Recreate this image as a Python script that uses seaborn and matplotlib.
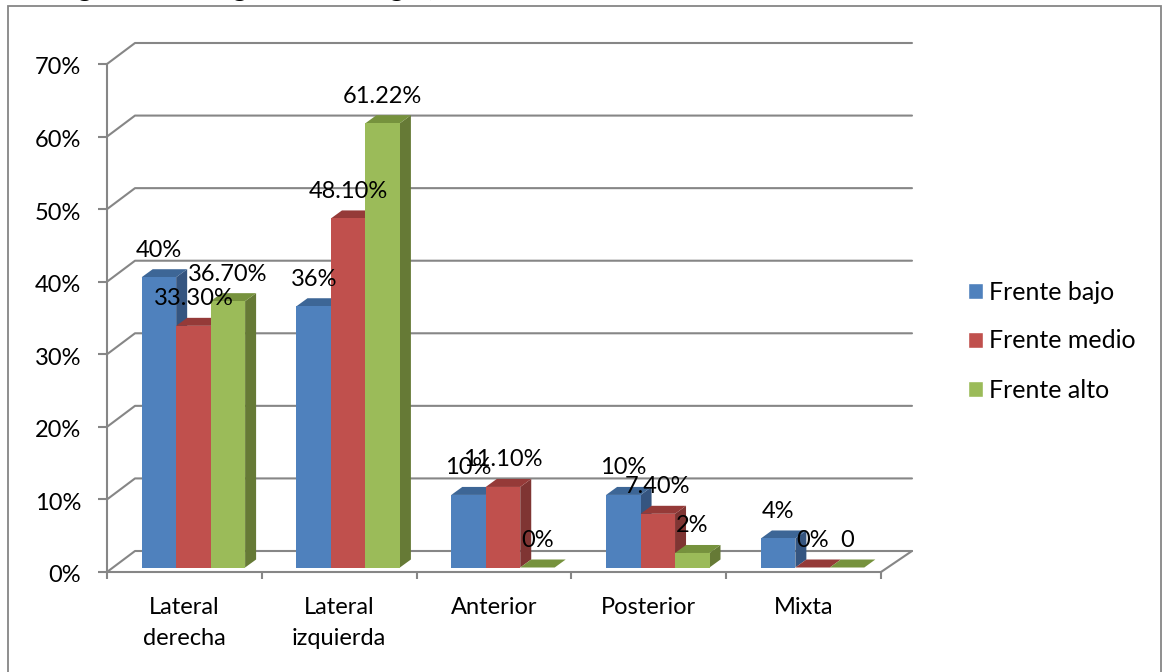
import matplotlib
matplotlib.use('Agg')
import matplotlib.pyplot as plt
from matplotlib.patches import Polygon, Rectangle
from matplotlib.lines import Line2D
from matplotlib.transforms import ScaledTranslation
import pandas as pd
import seaborn as sns

# Data
categories = ['Lateral\nderecha', 'Lateral\nizquierda', 'Anterior', 'Posterior', 'Mixta']
frente_bajo = [40, 36, 10, 10, 4]
frente_medio = [33.3, 48.1, 11.1, 7.4, 0]
frente_alto = [36.7, 61.22, 0, 2, 0]
labels_bajo = ['40%', '36%', '10%', '10%', '4%']
labels_medio = ['33.30%', '48.10%', '11.10%', '7.40%', '0%']
labels_alto = ['36.70%', '61.22%', '0%', '2%', '0']
series_names = ['Frente bajo', 'Frente medio', 'Frente alto']
y_ticks = [0, 10, 20, 30, 40, 50, 60, 70]
# only the bottoms of these glyphs of the line above the chart are on the canvas
cut_glyphs = ['g', 'g', 'g', ',']
cut_glyph_x = [85, 240, 397, 431]

front = ['#4F81BD', '#C0504D', '#9BBB59']
top = ['#3D6696', '#953A38', '#76923D']
side = ['#355580', '#7F3533', '#667A36']
grey = '#868686'

W, H = 1163, 672
sns.set_theme(style='white')
plt.rcParams['font.family'] = ['Lato', 'DejaVu Sans']

df = pd.DataFrame({'cat': categories * 3,
                   'val': frente_bajo + frente_medio + frente_alto,
                   'serie': sum([[s] * 5 for s in series_names], [])})

fig = plt.figure(figsize=(W / 100, H / 100), dpi=100)

# outer chart border, open at the bottom of the canvas
fig.add_artist(Rectangle((8 / W, -0.02), 1153 / W, 1.02 - 5.5 / H, transform=fig.transFigure,
                         fill=False, edgecolor=grey, linewidth=1.3))

# cut off line above the border
for g, gx in zip(cut_glyphs, cut_glyph_x):
    fig.text(gx / W, 1 + 4 / H, g, fontsize=22, ha='center', va='baseline', color='black')

# frame axes = front plane of the 3D box
x0, x1, y0, y1 = 107, 881, 572, 64
ax = fig.add_axes([x0 / W, 1 - y0 / H, (x1 - x0) / W, (y0 - y1) / H])
ax.set_xlim(-0.5, 4.5)
ax.set_ylim(0, 70)
ax.patch.set_alpha(0)
sns.despine(ax=ax, top=True, right=True)
for s in ['left', 'bottom']:
    ax.spines[s].set_color(grey)
    ax.spines[s].set_linewidth(1.5)

ax.set_yticks(y_ticks)
ax.set_yticklabels([f'{v}%' for v in y_ticks], fontsize=17, color='black')
ax.set_xticks([i - 0.5 for i in range(6)])
ax.set_xticklabels([])
ax.set_xticks(range(5), minor=True)
ax.set_xticklabels(categories, minor=True, fontsize=17, color='black', linespacing=1.6)
ax.tick_params(axis='y', which='major', length=6.5, width=1.5, color=grey, left=True, pad=12)
ax.tick_params(axis='x', which='major', length=5, width=1.5, color=grey, bottom=True)
ax.tick_params(axis='x', which='minor', length=0, pad=18)
ax.set_xlabel('')
ax.set_ylabel('')
for lab in ax.get_yticklabels():
    lab.set_transform(lab.get_transform() + ScaledTranslation(0, -2 / 100, fig.dpi_scale_trans))

# walls and floor, drawn in pixels from the tick values
depth_x, depth_y = 28, 21
to_px = lambda v: y0 - (y0 - y1) * v / 70
for v in y_ticks:
    py = to_px(v)
    fig.add_artist(Line2D([x0 / W, (x0 + depth_x) / W, 912 / W],
                          [1 - py / H, 1 - (py - depth_y) / H, 1 - (py - depth_y) / H],
                          color=grey, linewidth=1.5, zorder=0))
fig.add_artist(Line2D([912 / W, x1 / W], [1 - (y0 - depth_y) / H, 1 - y0 / H],
                      color=grey, linewidth=1.5, zorder=0))

# bars axes, shifted into the floor
ax_b = fig.add_axes([(x0 + 9) / W, 1 - (y0 - 4.5) / H, (x1 - x0) / W, (y0 - y1) / H])
ax_b.patch.set_alpha(0)
sns.barplot(data=df, x='cat', y='val', hue='serie', hue_order=series_names, order=categories,
            palette=front, width=0.668, gap=0, saturation=1, errorbar=None, ax=ax_b)
ax_b.set_xlim(-0.5, 4.5)
ax_b.set_ylim(0, 70)
ax_b.axis('off')

# 3D faces for every bar
dx = 11 / ((x1 - x0) / 5)
dy = 8 / ((y0 - y1) / 70)
all_labels = [labels_bajo, labels_medio, labels_alto]
for h, cont in enumerate(ax_b.containers):
    for i, p in enumerate(cont.patches):
        l, r, t = p.get_x(), p.get_x() + p.get_width(), p.get_height()
        p.set_zorder(3 * h + 3)
        p.set_linewidth(0)
        ax_b.add_patch(Polygon([(l, t), (l + dx, t + dy), (r + dx, t + dy), (r, t)],
                               facecolor=top[h], edgecolor='none', zorder=3 * h + 2, clip_on=False))
        ax_b.add_patch(Polygon([(r, 0), (r + dx, dy), (r + dx, t + dy), (r, t)],
                               facecolor=side[h], edgecolor='none', zorder=3 * h + 1, clip_on=False))
        ax_b.annotate(all_labels[h][i], xy=((l + r) / 2, t), xytext=(0, 19.5),
                      textcoords='offset points', ha='center', va='center',
                      fontsize=17, color='black', zorder=20, annotation_clip=False)

# legend
handles, names = ax_b.get_legend_handles_labels()
ax_b.legend(handles, names, loc='center left', bbox_to_anchor=(968 / W, 1 - 341 / H),
            bbox_transform=fig.transFigure, frameon=False, fontsize=18, labelcolor='black',
            handlelength=0.6, handleheight=0.6, handletextpad=0.24, labelspacing=1.04,
            borderpad=0, borderaxespad=0)

fig.savefig('out.png', dpi=100, facecolor='white')
